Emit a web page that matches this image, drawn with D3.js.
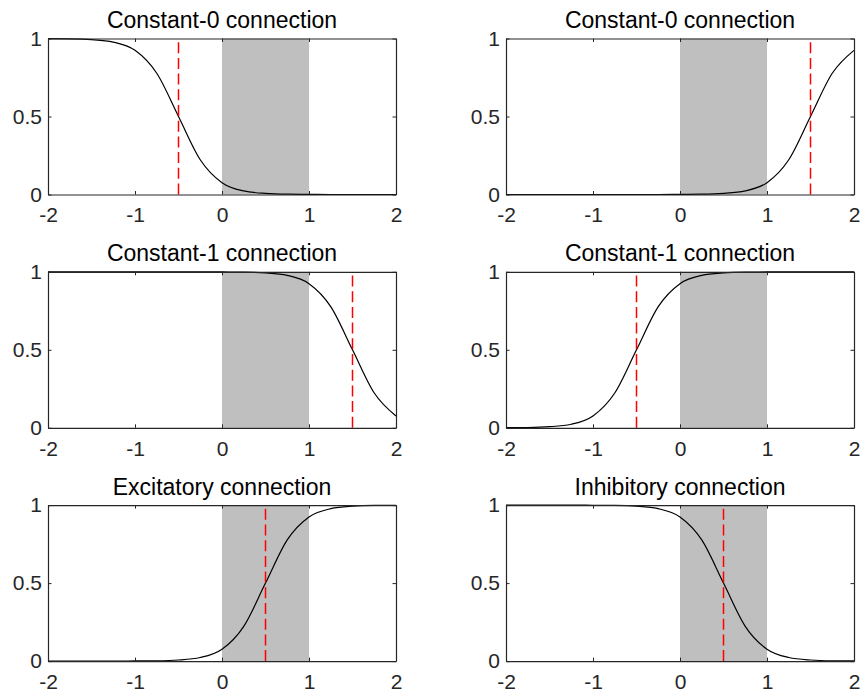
<!DOCTYPE html>
<html>
<head>
<meta charset="utf-8">
<script src="https://cdn.jsdelivr.net/npm/d3@7"></script>
<style>
  html, body { margin: 0; padding: 0; background: #fff; }
  svg { display: block; }
  .tick text { font-family: "Liberation Sans", Arial, Helvetica, sans-serif; }
</style>
</head>
<body>
<svg id="chart" width="860" height="693"></svg>
<script>
// Sampled transfer curves (input on x, output on y) for six connection types.
const xs = [-2, -1.75, -1.5, -1.25, -1, -0.75, -0.5, -0.25, 0, 0.25, 0.5, 0.75, 1, 1.25, 1.5, 1.75, 2];

const constant0A = [0.999, 0.998, 0.993, 0.977, 0.924, 0.777, 0.5, 0.223, 0.076, 0.023, 0.007, 0.002, 0.001, 0, 0, 0, 0];
const constant0B = [0, 0, 0, 0, 0, 0, 0, 0, 0.001, 0.002, 0.007, 0.023, 0.076, 0.223, 0.5, 0.777, 0.924];
const constant1A = [1, 1, 1, 1, 1, 1, 1, 1, 0.999, 0.998, 0.993, 0.977, 0.924, 0.777, 0.5, 0.223, 0.076];
const constant1B = [0.001, 0.002, 0.007, 0.023, 0.076, 0.223, 0.5, 0.777, 0.924, 0.977, 0.993, 0.998, 0.999, 1, 1, 1, 1];
const excitatory = [0, 0, 0, 0, 0.001, 0.002, 0.007, 0.023, 0.076, 0.223, 0.5, 0.777, 0.924, 0.977, 0.993, 0.998, 0.999];
const inhibitory = [1, 1, 1, 1, 0.999, 0.998, 0.993, 0.977, 0.924, 0.777, 0.5, 0.223, 0.076, 0.023, 0.007, 0.002, 0.001];

const titles = ["Constant-0 connection", "Constant-0 connection",
                "Constant-1 connection", "Constant-1 connection",
                "Excitatory connection", "Inhibitory connection"];
const curves = [constant0A, constant0B, constant1A, constant1B, excitatory, inhibitory];
const thresholds = [-0.5, 1.5, 1.5, -0.5, 0.5, 0.5];
const band = [0, 1];

const xTicks = [-2, -1, 0, 1, 2];
const xTickLabels = ["-2", "-1", "0", "1", "2"];
const yTicks = [0, 0.5, 1];
const yTickLabels = ["0", "0.5", "1"];

// Layout of the 3x2 grid of axes
const colLeft = [48, 506];
const plotW = 348;
const rowTop = [38.5, 271.8, 505.1];
const plotH = 156;
const axisColor = "#262626";
const tickLen = 3.5;

const svg = d3.select("#chart");

curves.forEach((ys, i) => {
  const col = i % 2, row = Math.floor(i / 2);
  const g = svg.append("g")
    .attr("transform", `translate(${colLeft[col]},${rowTop[row]})`);

  const x = d3.scaleLinear().domain([-2, 2]).range([0, plotW]);
  const y = d3.scaleLinear().domain([0, 1]).range([plotH, 0]);

  // shaded input interval
  g.append("rect")
    .attr("x", x(band[0]))
    .attr("y", y(1))
    .attr("width", x(band[1]) - x(band[0]))
    .attr("height", y(0) - y(1))
    .attr("fill", "#bfbfbf");

  // transfer curve
  const line = d3.line()
    .x((d, k) => x(xs[k]))
    .y(d => y(d))
    .curve(d3.curveMonotoneX);
  g.append("path")
    .datum(ys)
    .attr("d", line)
    .attr("fill", "none")
    .attr("stroke", "#000")
    .attr("stroke-width", 1.2);

  // threshold marker
  g.append("line")
    .attr("x1", x(thresholds[i])).attr("x2", x(thresholds[i]))
    .attr("y1", y(0)).attr("y2", y(1))
    .attr("stroke", "#ff0000")
    .attr("stroke-width", 1.5)
    .attr("stroke-dasharray", "11,4.7");

  // axes box with inward ticks
  const styleAxis = sel => {
    sel.select(".domain").attr("stroke", axisColor).attr("stroke-width", 1.2);
    sel.selectAll(".tick line").attr("stroke", axisColor).attr("stroke-width", 1);
    sel.selectAll(".tick text").attr("fill", axisColor).style("font-size", "21px");
  };

  g.append("g")
    .attr("transform", `translate(0,${plotH})`)
    .call(d3.axisBottom(x).tickValues(xTicks)
      .tickFormat((d, k) => xTickLabels[k])
      .tickSize(-tickLen).tickSizeOuter(0).tickPadding(13))
    .call(styleAxis);

  g.append("g")
    .call(d3.axisTop(x).tickValues(xTicks).tickFormat("")
      .tickSize(-tickLen).tickSizeOuter(0))
    .call(styleAxis);

  g.append("g")
    .call(d3.axisLeft(y).tickValues(yTicks)
      .tickFormat((d, k) => yTickLabels[k])
      .tickSize(-tickLen).tickSizeOuter(0).tickPadding(6))
    .call(styleAxis);

  g.append("g")
    .attr("transform", `translate(${plotW},0)`)
    .call(d3.axisRight(y).tickValues(yTicks).tickFormat("")
      .tickSize(-tickLen).tickSizeOuter(0))
    .call(styleAxis);

  g.selectAll(".tick text").attr("font-family", null);

  // panel title
  g.append("text")
    .attr("x", plotW / 2)
    .attr("y", -10.5)
    .attr("text-anchor", "middle")
    .attr("font-family", "'Liberation Sans', Arial, Helvetica, sans-serif")
    .attr("font-size", "23px")
    .attr("fill", "#000")
    .text(titles[i]);
});
</script>
</body>
</html>
